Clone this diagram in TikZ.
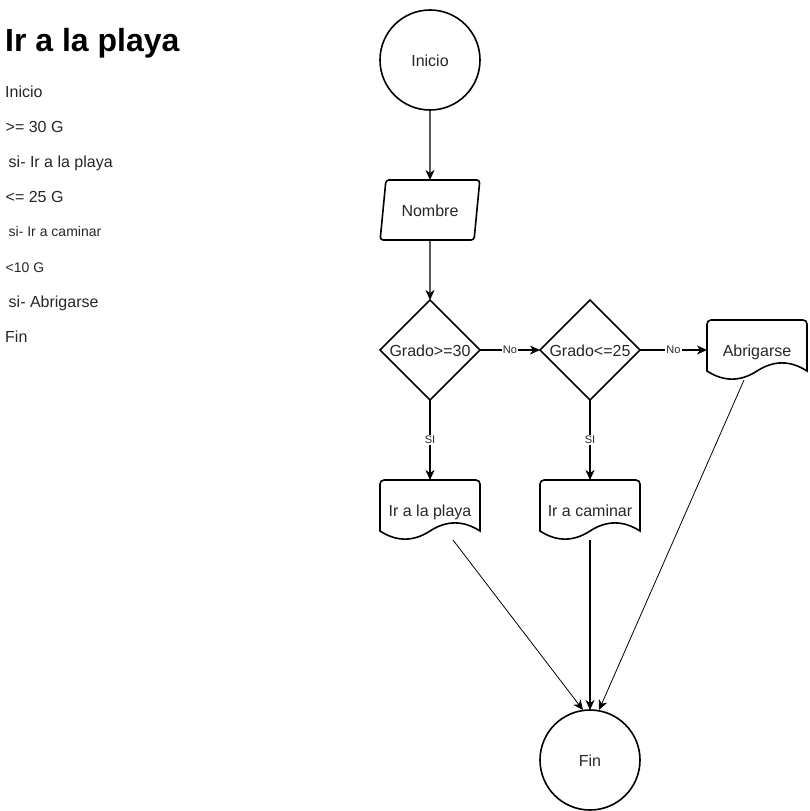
\documentclass[tikz,border=0pt]{standalone}
\usepackage{fontspec}
\setmainfont{Liberation Sans}
\usetikzlibrary{arrows.meta,positioning,shapes.geometric}
\tikzset{
	%Estilos de las figuras
	forma/.style={draw=black, line width=1.6pt},
	texto/.style={text=black!85, font=\fontsize{16}{19}\selectfont, text height=13pt, text depth=0pt},
	circulo/.style={circle, forma, texto, minimum size=100pt, inner sep=0pt, outer sep=0pt},
	entrada/.style={trapezium, forma, texto, trapezium left angle=74, trapezium right angle=106,
		trapezium stretches=true, minimum width=100pt, minimum height=60pt,
		rounded corners=3pt, inner sep=0pt, outer sep=0pt},
	decision/.style={diamond, forma, texto, minimum width=100pt, minimum height=100pt,
		inner xsep=-3pt, inner ysep=0pt, outer sep=0pt},
	%Documento con borde ondulado abajo
	docu/.style={rectangle, texto, minimum width=100pt, minimum height=60pt,
		inner sep=0pt, outer sep=0pt,
		append after command={\pgfextra{\draw[forma, shift={(\tikzlastnode.center)}]
			(-50,-21) -- (-50,26) arc[start angle=180, end angle=90, radius=4]
			-- (46,30) arc[start angle=90, end angle=0, radius=4] -- (50,-21)
			.. controls (33.3,-10.2) and (16.7,-10.2) .. (0,-21)
			.. controls (-16.7,-31.8) and (-33.3,-31.8) .. (-50,-21) -- cycle;}}},
	flecha/.style={->, line width=1.2pt},
	etiqueta/.style={fill=white, inner sep=1pt, text=black!85, font=\fontsize{11}{13}\selectfont},
	titulo/.style={anchor=base west, inner sep=0pt, font=\bfseries\fontsize{32}{38}\selectfont},
	lista/.style={anchor=base west, inner sep=0pt, text=black!85, font=\fontsize{16}{19}\selectfont},
	listachica/.style={lista, font=\fontsize{14}{17}\selectfont}
}

\begin{document}
\begin{tikzpicture}[x=1pt, y=1pt, >={Stealth[length=10pt,width=9pt,inset=3pt]}]
	\useasboundingbox (0,0) rectangle (809,-811);
	% texto de la izquierda
	\node[titulo] (titulo) at (5,-51.7) {Ir a la playa};
	\node[lista] (paso1) at (5,-97) {Inicio};
	\node[lista] (paso2) at (5.5,-132.5) {>= 30 G};
	\node[lista] (paso3) at (8.5,-167) {si- Ir a la playa};
	\node[lista] (paso4) at (5.5,-202) {<= 25 G};
	\node[listachica] (paso5) at (8.5,-236.5) {si- Ir a caminar};
	\node[listachica] (paso6) at (5.5,-272) {<10 G};
	\node[lista] (paso7) at (8.5,-307) {si- Abrigarse};
	\node[lista] (paso8) at (5,-342.5) {Fin};
	% diagrama
	\node[circulo] (inicio) at (430,-60) {Inicio};
	\node[entrada, below=70pt of inicio] (nombre) {Nombre};
	\node[decision, below=60pt of nombre] (grado30) {Grado>=30};
	\node[decision, right=60pt of grado30] (grado25) {Grado<=25};
	\node[docu, right=67pt of grado25] (abrigarse) {Abrigarse};
	\node[docu, below=80pt of grado30] (playa) {Ir a la playa};
	\node[docu, below=80pt of grado25] (caminar) {Ir a caminar};
	\node[circulo, below=170pt of caminar] (fin) {Fin};
	\draw[flecha] (inicio) -- (nombre);
	\draw[flecha] (nombre) -- (grado30);
	\draw[flecha] (grado30) -- node[etiqueta]{No} (grado25);
	\draw[flecha] (grado25) -- node[etiqueta]{No} (abrigarse);
	\draw[flecha] (grado30) -- node[etiqueta]{SI} (playa);
	\draw[flecha] (grado25) -- node[etiqueta]{SI} (caminar);
	\draw[flecha, line width=0.8pt] ([xshift=23pt]playa.south) -- ([xshift=-7pt]fin.north);
	\draw[flecha] (caminar) -- (fin);
	\draw[flecha, line width=0.8pt] ([xshift=-13pt]abrigarse.south) -- ([xshift=9pt]fin.north);
\end{tikzpicture}
\end{document}
